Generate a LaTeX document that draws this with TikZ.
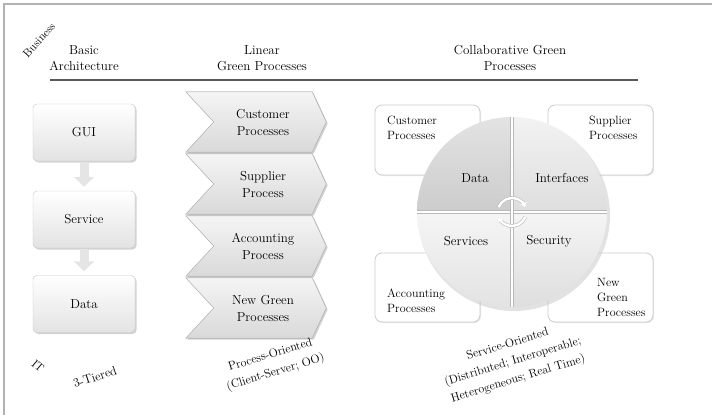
\documentclass[tikz,border=0pt]{standalone}
\usepackage{tikz}
\usetikzlibrary{positioning,calc,shadows,arrows.meta,backgrounds}
\tikzset{
  frame/.style={gray!60,line width=2pt},
  head/.style={align=center,font=\fontsize{13}{16}\selectfont,inner sep=0pt},
  axis/.style={font=\fontsize{11.5}{14}\selectfont,inner sep=0pt},
  slant/.style={align=center,rotate=17,font=\fontsize{12}{18}\selectfont,inner sep=0pt},
  tierbox/.style={draw=gray!45,rounded corners=4pt,top color=white,bottom color=gray!22,
    minimum width=102pt,minimum height=57pt,font=\fontsize{13}{16}\selectfont,
    drop shadow={shadow xshift=1.5pt,shadow yshift=-1.5pt,opacity=.35}},
  tierarrow/.style={line width=9pt,gray!20,-{Triangle[width=20pt,length=10pt]},shorten >=4pt,shorten <=1pt},
  procbox/.style={minimum width=98pt,minimum height=60pt,align=center,font=\fontsize{13}{17}\selectfont,inner sep=0pt},
  procshape/.style={draw=gray!50,line width=.5pt,top color=gray!8,bottom color=gray!30,
    drop shadow={shadow xshift=1.5pt,shadow yshift=-1.5pt,opacity=.35}},
  partbox/.style={draw=gray!40,rounded corners=7pt,fill=white,line width=.8pt,
    drop shadow={shadow xshift=1pt,shadow yshift=-1pt,opacity=.2}},
  partlabel/.style={align=left,anchor=west,font=\fontsize{12}{15}\selectfont,inner sep=0pt},
  qlabel/.style={font=\fontsize{13}{16}\selectfont,inner sep=0pt},
  sep/.style={draw=gray!55,line width=.5pt,double=white,double distance=2.6pt},
  cyc/.style={line width=2.4pt,white,-{Triangle[width=7pt,length=4.5pt]},preaction={draw=gray!55,line width=3.6pt}}
}

\begin{document}
\begin{tikzpicture}[x=1pt,y=-1pt]
  \useasboundingbox (0,0) rectangle (712,415);
  \draw[frame] (4,415) -- (4,3.5) -- (712,3.5);

  % column heads
  \node[axis,rotate=48] (biz) at (39,40) {Business};
  \node[head] (h1) at (84,58) {Basic\\Architecture};
  \node[head] (h2) at (262,58) {Linear\\Green Processes};
  \node[head] (h3) at (510,58) {Collaborative Green\\Processes};
  \draw[gray!70!black,line width=1.2pt] (50,80) -- (638,80);

  % 3 tiers
  \node[tierbox] (gui) at (84,132.5) {GUI};
  \node[tierbox] (srv) at (84,219.5) {Service};
  \node[tierbox] (dat) at (84,304) {Data};
  \draw[tierarrow] (gui) -- (srv);
  \draw[tierarrow] (srv) -- (dat);

  \node[axis,rotate=-40] (it) at (38,366) {IT};
  \node[axis,rotate=18,font=\fontsize{12.5}{15}\selectfont] (tier) at (95,377) {3-Tiered};

  % linear processes
  \node[procbox] (cust) at (263,122) {Customer\\Processes};
  \node[procbox] (supp) at (263,184) {Supplier\\Process};
  \node[procbox] (acct) at (263,246) {Accounting\\Process};
  \node[procbox] (newg) at (263,308) {New Green\\Processes};
  \begin{scope}[on background layer]
    \foreach \n in {cust,supp,acct,newg}
      \fill[procshape] ([xshift=-28pt]\n.north west) -- (\n.north east) -- ([xshift=14pt]\n.east)
        -- (\n.south east) -- ([xshift=-28pt]\n.south west) -- (\n.west) -- cycle;
  \end{scope}
  \node[slant] (proc) at (273,364) {Process-Oriented\\(Client-Server; OO)};

  % collaborative processes
  \node[partbox,minimum width=105pt,minimum height=70pt] (pc) at (427.5,140) {};
  \node[partbox,minimum width=105pt,minimum height=70pt] (ps) at (600.5,140) {};
  \node[partbox,minimum width=105pt,minimum height=69pt] (pa) at (427.5,287.5) {};
  \node[partbox,minimum width=105pt,minimum height=69pt] (pn) at (600.5,287.5) {};
  \node[partlabel] at (387,127.5) {Customer\\Processes};
  \node[partlabel] at (589,127.5) {Supplier\\Processes};
  \node[partlabel] at (387,300.5) {Accounting\\Processes};
  \node[partlabel] at (597,297.5) {New\\Green\\Processes};

  % wheel
  \coordinate (c) at (512,212);
  \fill[gray!45,opacity=.5] ($(c)+(2,3)$) circle (96pt);
  \shade[top color=gray!22,bottom color=gray!40] (c) -- ++(180:95pt) arc[start angle=180,end angle=90,radius=95pt] -- cycle;
  \shade[top color=gray!10,bottom color=gray!26] (c) -- ++(90:95pt) arc[start angle=90,end angle=0,radius=95pt] -- cycle;
  \shade[top color=gray!8,bottom color=gray!22] (c) -- ++(180:95pt) arc[start angle=180,end angle=270,radius=95pt] -- cycle;
  \shade[top color=gray!8,bottom color=gray!26] (c) -- ++(0:95pt) arc[start angle=0,end angle=-90,radius=95pt] -- cycle;
  \draw[sep] ($(c)+(-95,0)$) -- ($(c)+(95,0)$);
  \draw[sep] ($(c)+(0,-95)$) -- ($(c)+(0,95)$);
  \draw[cyc] ($(c)+(160:14pt)$) arc[start angle=160,end angle=20,radius=14pt];
  \draw[cyc] ($(c)+(-20:14pt)$) arc[start angle=-20,end angle=-160,radius=14pt];

  \node[qlabel] (qd) at (475,178) {Data};
  \node[qlabel] (qi) at (562,178) {Interfaces};
  \node[qlabel] (qs) at (466,241) {Services};
  \node[qlabel] (qy) at (549,241) {Security};

  \node[slant] (svc) at (513,362) {Service-Oriented\\(Distributed; Interoperable;\\Heterogeneous; Real Time)};
\end{tikzpicture}
\end{document}
